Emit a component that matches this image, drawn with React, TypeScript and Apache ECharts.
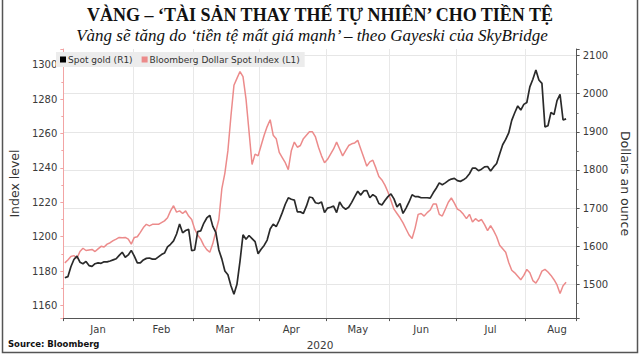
import React, { useEffect, useRef } from "react";
import * as echarts from "echarts";

// Month names, number of weekdays shown per month (Jan 1 – Aug 25, 2020) and full-month weekday counts
const months = ["Jan", "Feb", "Mar", "Apr", "May", "Jun", "Jul", "Aug"];
const weekdaysPerMonth = [23, 20, 22, 22, 21, 22, 23, 17];
const fullMonthWeekdays = [23, 20, 22, 22, 21, 22, 23, 21];

// Spot gold (R1), dollars an ounce, one value per weekday
const spotGold = [
  // Jan
  1517, 1520, 1546, 1565, 1574, 1558, 1554, 1560, 1549, 1547, 1554, 1556, 1555, 1559, 1559, 1561, 1564, 1567, 1576, 1584, 1571, 1577, 1589,
  // Feb
  1574, 1556, 1556, 1564, 1568, 1569, 1566, 1566, 1572, 1578, 1582, 1598, 1605, 1614, 1632, 1658, 1635, 1641, 1644, 1588,
  // Mar
  1590, 1638, 1640, 1660, 1674, 1681, 1652, 1636, 1590, 1566, 1535, 1525, 1496, 1474, 1500, 1560, 1630, 1618, 1628, 1620, 1612, 1580,
  // Apr
  1592, 1602, 1616, 1645, 1658, 1651, 1668, 1688, 1710, 1727, 1723, 1721, 1690, 1690, 1686, 1705, 1729, 1727, 1714, 1712, 1716, 1688,
  // May
  1700, 1702, 1705, 1688, 1716, 1703, 1697, 1702, 1715, 1730, 1744, 1734, 1745, 1746, 1727, 1735, 1730, 1712, 1708, 1720, 1730,
  // Jun
  1737, 1724, 1703, 1712, 1686, 1700, 1716, 1735, 1730, 1730, 1727, 1727, 1727, 1726, 1740, 1752, 1766, 1761, 1766, 1772, 1776, 1778,
  // Jul
  1772, 1770, 1774, 1780, 1790, 1805, 1805, 1798, 1802, 1808, 1809, 1797, 1808, 1817, 1842, 1866, 1880, 1897, 1930, 1950, 1968, 1957, 1972,
  // Aug
  1977, 2018, 2038, 2062, 2036, 2027, 1913, 1916, 1951, 1945, 1982, 1998, 1931, 1934,
];

// Bloomberg Dollar Spot Index (L1), one value per weekday
const dollarIndex = [
  // Jan
  1184.8, 1186.5, 1188.5, 1189, 1187.5, 1191.4, 1193.3, 1192, 1192.3, 1192.6, 1191.4, 1192.9, 1194.4, 1194, 1195.7, 1196.5, 1197.7, 1198.6, 1199.6, 1199.4, 1199.6, 1198.6, 1195.7,
  // Feb
  1199.6, 1200, 1202.5, 1205.3, 1207.2, 1206.3, 1207.2, 1207.2, 1207.2, 1208.2, 1209.2, 1211, 1215, 1218, 1214.3, 1215, 1213.5, 1215, 1212, 1210,
  // Mar
  1204.4, 1201, 1198.6, 1195, 1192.5, 1191, 1196, 1203, 1210, 1228, 1237, 1250, 1270, 1288, 1292, 1296, 1293, 1280, 1261, 1242, 1248, 1247,
  // Apr
  1253, 1259, 1264, 1268, 1259, 1257, 1249, 1246, 1243, 1239, 1250, 1255, 1252, 1253, 1257, 1259, 1261, 1261, 1258, 1252, 1247, 1243,
  // May
  1245, 1248, 1251, 1255, 1251, 1247, 1250, 1253, 1254, 1254.5, 1256, 1251, 1246, 1241, 1243.5, 1244.5, 1240, 1235, 1233, 1230, 1226,
  // Jun
  1221, 1216, 1213.5, 1211, 1208, 1204.5, 1201, 1199, 1205, 1213, 1213.5, 1212, 1214, 1215.5, 1219, 1219, 1213, 1212, 1216, 1220, 1222.5, 1219.5,
  // Jul
  1216, 1215, 1213, 1210.5, 1213, 1208.5, 1210.5, 1209, 1210, 1207, 1203.5, 1206.5, 1203.5, 1200, 1195, 1193, 1191, 1185, 1180.5, 1179, 1177, 1175, 1177.5,
  // Aug
  1181, 1179, 1174.5, 1173, 1176, 1180, 1181, 1179.5, 1177.5, 1175, 1172, 1167, 1171.5, 1173.5,
];

const seriesNames = ["Spot gold (R1)", "Bloomberg Dollar Spot Index (L1)"];
const titleText = "VÀNG – ‘TÀI SẢN THAY THẾ TỰ NHIÊN’ CHO TIỀN TỆ";
const subtitleText = "Vàng sẽ tăng do ‘tiền tệ mất giá mạnh’ – theo Gayeski của SkyBridge";
const sourceText = "Source: Bloomberg";
const yearText = "2020";

const SANS = "DejaVu Sans";
const SERIF = "Liberation Serif";

export default function App() {
  const ref = useRef<HTMLDivElement>(null);

  useEffect(() => {
    if (!ref.current) return;
    const chart = echarts.init(ref.current, undefined, { renderer: "svg" });

    const categories: string[] = [];
    const monthStarts = new Set<number>();
    const labelIdx = new Set<number>();
    let idx = 0;
    months.forEach((m, mi) => {
      const n = weekdaysPerMonth[mi];
      monthStarts.add(idx);
      labelIdx.add(idx + Math.min(n - 1, Math.floor((fullMonthWeekdays[mi] - 1) / 2)));
      for (let d = 0; d < n; d++) categories.push(m + "|" + d);
      idx += n;
    });

    const axisText = { color: "#3a3a3a", fontSize: 10, fontFamily: SANS };
    const plainNumber = (v: number) => String(Math.round(v));

    chart.setOption({
      animation: false,
      backgroundColor: "#ffffff",
      grid: { left: 54.5, right: 52, top: 49, bottom: 33, containLabel: false },
      legend: {
        data: seriesNames,
        left: 56,
        top: 52,
        icon: "rect",
        itemWidth: 6,
        itemHeight: 6,
        itemGap: 9,
        padding: [3, 5, 3, 4],
        backgroundColor: "#ececec",
        textStyle: { fontSize: 9, color: "#333", fontFamily: SANS, padding: [0, 0, 0, -3] },
      },
      xAxis: {
        type: "category",
        data: categories,
        boundaryGap: true,
        axisLine: { show: true, lineStyle: { color: "#555", width: 1 } },
        axisTick: {
          show: true,
          length: 3,
          interval: (i: number) => monthStarts.has(i),
          lineStyle: { color: "#555" },
        },
        axisLabel: {
          ...axisText,
          margin: 6,
          interval: (i: number) => labelIdx.has(i),
          formatter: (v: string) => v.split("|")[0],
        },
        splitLine: {
          show: true,
          interval: (i: number) => monthStarts.has(i),
          lineStyle: { color: "#e8e8e8", width: 1 },
        },
        name: yearText,
        nameLocation: "middle",
        nameGap: 15,
        nameTextStyle: { ...axisText, fontSize: 10.5 },
      },
      yAxis: [
        {
          type: "value",
          position: "left",
          min: 1152.7,
          max: 1309.1,
          splitNumber: 8,
          minInterval: 20,
          maxInterval: 20,
          axisLine: { show: true, lineStyle: { color: "#f2a4a4", width: 1 } },
          axisTick: { show: true, length: 3, lineStyle: { color: "#f2a4a4" } },
          minorTick: { show: true, splitNumber: 2, length: 2, lineStyle: { color: "#f2a4a4" } },
          axisLabel: { ...axisText, margin: 6, showMinLabel: false, showMaxLabel: false, formatter: plainNumber },
          splitLine: { show: false },
          name: "Index level",
          nameLocation: "middle",
          nameGap: 34,
          nameRotate: 90,
          nameTextStyle: { color: "#333", fontSize: 12.5, fontFamily: SANS },
        },
        {
          type: "value",
          position: "right",
          min: 1411.3,
          max: 2117.3,
          splitNumber: 7,
          minInterval: 100,
          maxInterval: 100,
          axisLine: { show: true, lineStyle: { color: "#555", width: 1 } },
          axisTick: { show: true, length: 3, lineStyle: { color: "#555" } },
          minorTick: { show: true, splitNumber: 2, length: 2, lineStyle: { color: "#777" } },
          axisLabel: { ...axisText, margin: 6, showMinLabel: false, showMaxLabel: false, formatter: plainNumber },
          splitLine: {
            show: true,
            showMinLine: false,
            showMaxLine: false,
            lineStyle: { color: "#e6e6e6", width: 1 },
          },
          name: "Dollars an ounce",
          nameLocation: "middle",
          nameGap: 37,
          nameRotate: -90,
          nameTextStyle: { color: "#333", fontSize: 12.5, fontFamily: SANS },
        },
      ],
      series: [
        {
          name: seriesNames[1],
          type: "line",
          yAxisIndex: 0,
          data: dollarIndex,
          showSymbol: false,
          symbol: "none",
          color: "#ec8b8b",
          lineStyle: { color: "#ec8b8b", width: 1.5 },
          z: 2,
        },
        {
          name: seriesNames[0],
          type: "line",
          yAxisIndex: 1,
          data: spotGold,
          showSymbol: false,
          symbol: "none",
          color: "#000000",
          lineStyle: { color: "#2a2a2a", width: 1.7 },
          z: 3,
        },
      ],
      graphic: [
        {
          type: "rect",
          shape: { x: 2.5, y: -1, width: 635, height: 353.5 },
          style: { fill: "none", stroke: "#555", lineWidth: 1.5 },
          silent: true,
        },
        {
          type: "text",
          x: 320,
          y: 15,
          style: {
            text: titleText,
            fontFamily: SERIF,
            fontWeight: "bold",
            fontSize: 18,
            fill: "#111",
            align: "center",
            verticalAlign: "middle",
          },
        },
        {
          type: "text",
          x: 312,
          y: 35,
          style: {
            text: subtitleText,
            fontFamily: SERIF,
            fontStyle: "italic",
            fontSize: 17,
            fill: "#111",
            align: "center",
            verticalAlign: "middle",
          },
        },
        {
          type: "text",
          x: 8,
          y: 344,
          style: {
            text: sourceText,
            fontFamily: SANS,
            fontWeight: "bold",
            fontSize: 8.5,
            fill: "#111",
            align: "left",
            verticalAlign: "middle",
          },
        },
      ],
    });

    return () => chart.dispose();
  }, []);

  return (
    <div
      ref={ref}
      style={{ position: "fixed", left: 0, top: 0, width: 640, height: 355, background: "#fff" }}
    />
  );
}
